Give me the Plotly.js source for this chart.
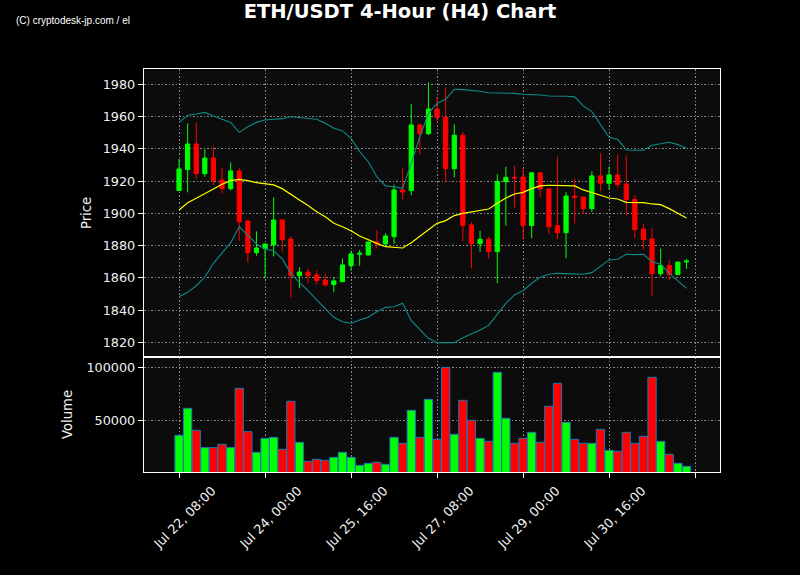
<!DOCTYPE html>
<html>
<head>
<meta charset="utf-8">
<script src="https://cdn.plot.ly/plotly-3.0.1.min.js"></script>
<style>
  html, body { margin: 0; padding: 0; background: #000; }
  #chart { width: 800px; height: 575px; }
</style>
</head>
<body>
<div id="chart"></div>
<script>
// ---- Data ----
const startTime = "2023-07-22 08:00";   // first 4-hour candle
const stepHours = 4;

const opens  = [1914.1,1927.1,1943.0,1924.6,1934.3,1920.7,1915.3,1926.3,1895.2,1875.6,
                1878.1,1880.4,1895.9,1884.1,1861.3,1863.6,1861.8,1858.7,1855.8,1857.6,
                1867.5,1874.6,1874.2,1882.2,1881.0,1885.5,1914.5,1914.1,1954.8,1949.4,
                1964.7,1959.5,1927.7,1948.4,1892.8,1881.2,1883.9,1876.2,1919.6,1922.3,
                1922.5,1892.4,1925.1,1915.1,1892.4,1888.0,1910.7,1910.1,1902.9,1923.2,
                1918.6,1923.8,1918.2,1908.5,1890.3,1884.1,1862.6,1867.7,1862.0,1869.8];
const highs  = [1933.7,1955.8,1956.4,1939.7,1941.3,1928.5,1931.6,1927.9,1895.6,1888.8,
                1881.0,1909.9,1896.2,1885.9,1866.5,1865.7,1864.7,1862.6,1859.7,1872.0,
                1876.8,1877.3,1882.5,1889.5,1887.6,1917.8,1927.9,1967.8,1955.6,1981.2,
                1971.9,1978.1,1955.2,1950.5,1894.4,1889.2,1885.5,1924.2,1928.9,1929.6,
                1928.1,1925.4,1925.3,1915.3,1935.1,1913.0,1921.7,1910.3,1926.0,1937.2,
                1929.0,1936.6,1936.0,1911.2,1893.4,1890.7,1878.1,1871.0,1869.9,1871.8];
const lows   = [1914.0,1913.0,1921.3,1922.7,1917.4,1912.4,1914.1,1882.8,1869.6,1873.7,
                1859.7,1873.3,1876.4,1847.9,1853.5,1856.6,1855.8,1854.5,1851.0,1857.4,
                1864.4,1867.5,1873.8,1878.1,1879.3,1881.0,1908.7,1911.2,1936.6,1948.6,
                1956.6,1919.2,1922.3,1882.8,1865.9,1876.2,1872.1,1856.6,1892.4,1903.7,
                1883.9,1884.5,1910.1,1887.2,1883.9,1872.1,1893.8,1899.4,1900.8,1913.9,
                1914.9,1916.1,1898.8,1884.5,1877.7,1848.5,1860.9,1858.5,1861.9,1865.5];
const closes = [1927.5,1943.0,1924.6,1934.3,1920.3,1915.3,1926.3,1894.8,1875.6,1878.5,
                1881.0,1895.9,1883.7,1861.3,1863.6,1861.3,1858.3,1855.6,1858.1,1868.0,
                1874.8,1875.2,1882.2,1881.0,1885.9,1914.5,1913.2,1954.8,1949.4,1964.7,
                1959.5,1927.7,1948.4,1892.4,1881.2,1883.9,1876.2,1919.8,1922.3,1921.9,
                1892.4,1925.1,1915.1,1891.7,1888.0,1910.7,1909.9,1902.9,1923.2,1918.6,
                1923.8,1917.8,1908.5,1889.9,1883.7,1862.6,1867.7,1862.0,1869.8,1870.4];
const volumes = [35850,61320,40570,24210,24210,27360,24210,80190,39300,19810,
                 33020,33960,22640,67920,29250,11320,13210,12260,15090,19810,
                 15090,7550,9430,10380,8490,33960,28300,59430,33960,69810,
                 32080,99900,36790,68870,50000,33020,30190,95280,51890,28300,
                 33020,38680,29250,63210,84910,48110,32080,28300,28300,41510,
                 21700,20750,38680,28300,34910,90570,30190,17920,9430,6600];
const bbMid   = [1902.1,1906.6,1909.3,1912.4,1915.1,1918.0,1920.3,1921.1,1920.3,1919.0,
                 1918.2,1917.6,1915.3,1912.0,1908.3,1904.8,1901.0,1897.9,1893.8,1891.7,
                 1889.2,1885.9,1883.5,1881.4,1879.3,1878.9,1878.5,1881.8,1885.9,1889.9,
                 1893.8,1895.5,1898.6,1900.0,1901.0,1902.1,1902.7,1906.2,1909.5,1912.0,
                 1913.0,1915.3,1917.0,1917.4,1917.4,1917.2,1917.0,1914.5,1913.0,1911.2,
                 1909.5,1908.9,1906.8,1906.6,1906.6,1905.8,1905.4,1902.9,1900.0,1897.1];
const bbUpper = [1956.4,1960.8,1961.6,1962.6,1960.4,1958.3,1956.4,1950.2,1953.7,1956.4,
                 1957.9,1958.3,1958.7,1959.9,1959.5,1958.9,1958.3,1955.8,1952.7,1951.1,
                 1946.5,1938.3,1932.0,1922.7,1917.0,1916.5,1915.5,1931.0,1947.5,1962.0,
                 1968.2,1970.7,1976.9,1976.7,1976.3,1975.7,1974.8,1974.8,1974.6,1974.4,
                 1973.8,1973.8,1973.4,1972.8,1972.8,1972.6,1972.2,1966.6,1963.1,1954.8,
                 1947.1,1945.9,1939.3,1939.1,1939.1,1942.2,1943.0,1944.1,1942.6,1940.3];
const bbLower = [1848.3,1851.0,1855.1,1860.5,1869.0,1875.6,1881.8,1891.7,1886.1,1881.0,
                 1877.9,1876.8,1871.7,1862.8,1857.0,1852.0,1846.3,1841.1,1835.5,1832.8,
                 1831.8,1833.8,1835.5,1839.0,1841.7,1842.1,1844.2,1833.4,1828.1,1822.5,
                 1819.8,1819.8,1819.8,1822.9,1825.2,1827.6,1830.5,1837.5,1844.2,1849.4,
                 1852.0,1856.6,1860.3,1862.2,1862.8,1862.6,1862.2,1862.2,1863.2,1866.9,
                 1871.1,1871.5,1874.6,1874.4,1874.6,1870.0,1868.4,1862.8,1858.0,1853.5];
const tickTimes  = ["2023-07-22 08:00","2023-07-24 00:00","2023-07-25 16:00","2023-07-27 08:00",
                    "2023-07-29 00:00","2023-07-30 16:00","2023-08-01 08:00"];
const tickLabels = ["Jul 22, 08:00","Jul 24, 00:00","Jul 25, 16:00","Jul 27, 08:00",
                    "Jul 29, 00:00","Jul 30, 16:00",""];
const xRange = ["2023-07-21 15:42","2023-08-01 19:36"];
const priceRange = [1810.9, 1989.5];
const volumeRange = [1258, 109745];
const volumeTicks = [50000, 100000];

// ---- Build time axis for each candle ----
function fmt(d) {
  const p = n => String(n).padStart(2, "0");
  return d.getUTCFullYear() + "-" + p(d.getUTCMonth() + 1) + "-" + p(d.getUTCDate()) +
         " " + p(d.getUTCHours()) + ":" + p(d.getUTCMinutes());
}
const t0 = Date.parse(startTime.replace(" ", "T") + ":00Z");
const times = opens.map((_, i) => fmt(new Date(t0 + i * stepHours * 3600000)));
const volColors = closes.map((c, i) => c >= opens[i] ? "#00ff00" : "#ff0000");

const UP = "#00ff00", DOWN = "#ff0000";
const GRID = "rgba(170,170,170,0.8)";
const FONT = "DejaVu Sans, Verdana, sans-serif";

const traces = [
  {
    type: "candlestick", x: times, open: opens, high: highs, low: lows, close: closes,
    xaxis: "x2", yaxis: "y2",
    increasing: { line: { color: UP, width: 1 }, fillcolor: UP },
    decreasing: { line: { color: DOWN, width: 1 }, fillcolor: DOWN },
    showlegend: false, hoverinfo: "skip"
  },
  {
    type: "scatter", mode: "lines", x: times, y: bbUpper, xaxis: "x2", yaxis: "y2",
    line: { color: "#0e8a8a", width: 1.1 }, showlegend: false, hoverinfo: "skip"
  },
  {
    type: "scatter", mode: "lines", x: times, y: bbLower, xaxis: "x2", yaxis: "y2",
    line: { color: "#0e8a8a", width: 1.1 }, showlegend: false, hoverinfo: "skip"
  },
  {
    type: "scatter", mode: "lines", x: times, y: bbMid, xaxis: "x2", yaxis: "y2",
    line: { color: "#ffff00", width: 1.2 }, showlegend: false, hoverinfo: "skip"
  },
  {
    type: "bar", x: times, y: volumes, xaxis: "x", yaxis: "y",
    width: stepHours * 3600000 * 0.96,
    marker: { color: volColors, line: { color: "#1f77b4", width: 1 } },
    showlegend: false, hoverinfo: "skip"
  }
];

const volFrac = 115 / 403;
const axisCommon = {
  showline: true, linecolor: "#ffffff", linewidth: 1.2, mirror: true,
  showgrid: true, gridcolor: GRID, gridwidth: 1, griddash: "1.5px,2px",
  zeroline: false, ticks: "outside", ticklen: 5, tickwidth: 1, tickcolor: "#ffffff",
  tickfont: { family: FONT, size: 12.8, color: "#f0f0f0" }
};

const layout = {
  width: 800, height: 575,
  paper_bgcolor: "#000000", plot_bgcolor: "#0c0c0c",
  margin: { l: 144, r: 80, t: 69, b: 103, pad: 0 },
  showlegend: false,
  bargap: 0,
  title: {
    text: "ETH/USDT 4-Hour (H4) Chart",
    font: { family: FONT, size: 19.5, color: "#ffffff", weight: "bold" },
    x: 0.5, xref: "container", xanchor: "center",
    y: 1 - 11 / 575, yref: "container", yanchor: "middle"
  },
  xaxis: Object.assign({}, axisCommon, {
    type: "date", anchor: "y", domain: [0, 1], range: xRange,
    tickmode: "array", tickvals: tickTimes, ticktext: tickLabels,
    tickangle: -45, ticklabelshift: 33,
    rangeslider: { visible: false }
  }),
  xaxis2: Object.assign({}, axisCommon, {
    type: "date", anchor: "y2", matches: "x", range: xRange,
    tickmode: "array", tickvals: tickTimes, ticktext: tickLabels,
    showticklabels: false, ticks: "",
    rangeslider: { visible: false }
  }),
  yaxis: Object.assign({}, axisCommon, {
    anchor: "x", domain: [0, volFrac], range: volumeRange,
    tickmode: "array", tickvals: volumeTicks, ticktext: volumeTicks.map(String),
    title: { text: "Volume", font: { family: FONT, size: 13.2, color: "#f0f0f0" }, standoff: 10 }
  }),
  yaxis2: Object.assign({}, axisCommon, {
    anchor: "x2", domain: [volFrac, 1], range: priceRange,
    tickmode: "linear", tick0: 1820, dtick: 20,
    title: { text: "Price", font: { family: FONT, size: 13.2, color: "#f0f0f0" }, standoff: 8 }
  }),
  annotations: [{
    text: "(C) cryptodesk-jp.com / el",
    xref: "paper", yref: "paper", x: (14 - 144) / 576, y: (472 - 21) / 403,
    xanchor: "left", yanchor: "middle", showarrow: false,
    font: { family: "Liberation Sans Narrow, Liberation Sans, Arial, sans-serif", size: 10, color: "#ffffff" }
  }]
};

Plotly.newPlot("chart", traces, layout, { displayModeBar: false, staticPlot: true });
</script>
</body>
</html>
